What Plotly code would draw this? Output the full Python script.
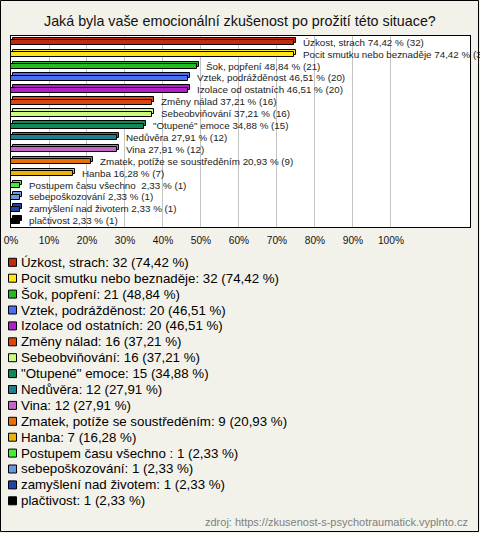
import plotly.graph_objects as go

categories = [
    "Úzkost, strach",
    "Pocit smutku nebo beznaděje",
    "Šok, popření",
    "Vztek, podrážděnost",
    "Izolace od ostatních",
    "Změny nálad",
    "Sebeobviňování",
    "\"Otupené\" emoce",
    "Nedůvěra",
    "Vina",
    "Zmatek, potíže se soustředěním",
    "Hanba",
    "Postupem času všechno ",
    "sebepoškozování",
    "zamyšlení nad životem",
    "plačtivost",
]
counts = [32, 32, 21, 20, 20, 16, 16, 15, 12, 12, 9, 7, 1, 1, 1, 1]
percents = [74.42, 74.42, 48.84, 46.51, 46.51, 37.21, 37.21, 34.88,
            27.91, 27.91, 20.93, 16.28, 2.33, 2.33, 2.33, 2.33]
colors = ["#c42a10", "#ffe614", "#22bb22", "#4b6ef2", "#b41ec8", "#e0440e",
          "#ccfa80", "#12875a", "#1d7f8e", "#c466c8", "#e8700c", "#e8b40c",
          "#44ee33", "#6699e0", "#2244aa", "#000000"]
tick_values = [0, 10, 20, 30, 40, 50, 60, 70, 80, 90, 100]
tick_labels = [f"{v}%" for v in tick_values]
title_text = "Jaká byla vaše emocionální zkušenost po prožití této situace?"
source_text = "zdroj: https://zkusenost-s-psychotraumatick.vyplnto.cz"

W, H = 480, 533
FONT = "Liberation Sans, Arial, sans-serif"


def px(x):
    return x / W


def py(y):
    return 1 - y / H


def fmt(p):
    return f"{p:.2f}".replace(".", ",")


ys = list(range(len(categories)))
bw = 0.42
shift_y = 0.17
shift_x = 0.55

fig = go.Figure()
# back face (3D depth)
fig.add_trace(go.Bar(
    y=ys, x=percents, base=[shift_x] * len(ys), orientation="h",
    width=bw, offset=-bw / 2 - shift_y,
    marker=dict(color=colors, line=dict(color="#000000", width=1)),
    hoverinfo="skip", showlegend=False,
))
# front face
fig.add_trace(go.Bar(
    y=ys, x=percents, orientation="h",
    width=bw, offset=-bw / 2 + 0.04,
    marker=dict(color=colors, line=dict(color="#000000", width=1)),
    showlegend=False,
))

annotations = []
for i, (c, n, p) in enumerate(zip(categories, counts, percents)):
    annotations.append(dict(
        x=p, y=i, xref="x", yref="y", xanchor="left", yanchor="middle",
        xshift=7, text=f"{c} {fmt(p)} % ({n})", showarrow=False,
        font=dict(family=FONT, size=9.8, color="#222222"),
    ))

shapes = []
legend_y0 = 262.3
legend_dy = 15.9
for i, (c, n, p, col) in enumerate(zip(categories, counts, percents, colors)):
    yc = legend_y0 + i * legend_dy
    shapes.append(dict(
        type="rect", xref="paper", yref="paper",
        x0=px(8.5), x1=px(16.5), y0=py(yc + 4), y1=py(yc - 4),
        fillcolor=col, line=dict(color="#000000", width=1),
    ))
    annotations.append(dict(
        x=px(19), y=py(yc), xref="paper", yref="paper",
        xanchor="left", yanchor="middle", showarrow=False,
        text=f"{c}: {n} ({fmt(p)} %)",
        font=dict(family=FONT, size=13.3, color="#000000"),
    ))

annotations.append(dict(
    x=0.5, y=py(21), xref="paper", yref="paper", xanchor="center",
    yanchor="middle", showarrow=False, text=title_text,
    font=dict(family=FONT, size=14.3, color="#111111"),
))
annotations.append(dict(
    x=px(470), y=py(521.5), xref="paper", yref="paper", xanchor="right",
    yanchor="middle", showarrow=False, text=source_text,
    font=dict(family=FONT, size=11, color="#808080"),
))

shapes.append(dict(
    type="rect", xref="paper", yref="paper",
    x0=px(0.5), x1=px(W - 1.5), y0=py(H - 1.5), y1=py(0.5),
    line=dict(color="#000000", width=1), layer="above",
))

fig.update_layout(
    width=W, height=H, autosize=False,
    margin=dict(l=0, r=0, t=0, b=0, pad=0),
    paper_bgcolor="#f3f2ea", plot_bgcolor="#ffffff",
    barmode="overlay", bargap=0,
    annotations=annotations, shapes=shapes,
    showlegend=False,
    xaxis=dict(
        domain=[px(11), px(470)], range=[0, 120.8],
        tickvals=tick_values, ticktext=tick_labels,
        showgrid=True, gridcolor="#c4c4c4", gridwidth=1,
        zeroline=False, showline=True, linecolor="#000000", linewidth=1,
        mirror=True, ticks="outside", ticklen=4, tickcolor="rgba(0,0,0,0)",
        tickfont=dict(family=FONT, size=10.2, color="#111111"),
        fixedrange=True, automargin=False,
    ),
    yaxis=dict(
        domain=[py(227), py(36)], range=[15.53, -0.53],
        showgrid=False, zeroline=False, showticklabels=False,
        showline=True, linecolor="#000000", linewidth=1, mirror=True,
        fixedrange=True, automargin=False,
    ),
)

fig.write_html(
    "out.html",
    config={"displayModeBar": False},
    post_script=(
        "document.documentElement.style.margin='0';"
        "document.body.style.margin='0';"
        "document.body.style.padding='0';"
        "document.body.style.overflow='hidden';"
    ),
)
